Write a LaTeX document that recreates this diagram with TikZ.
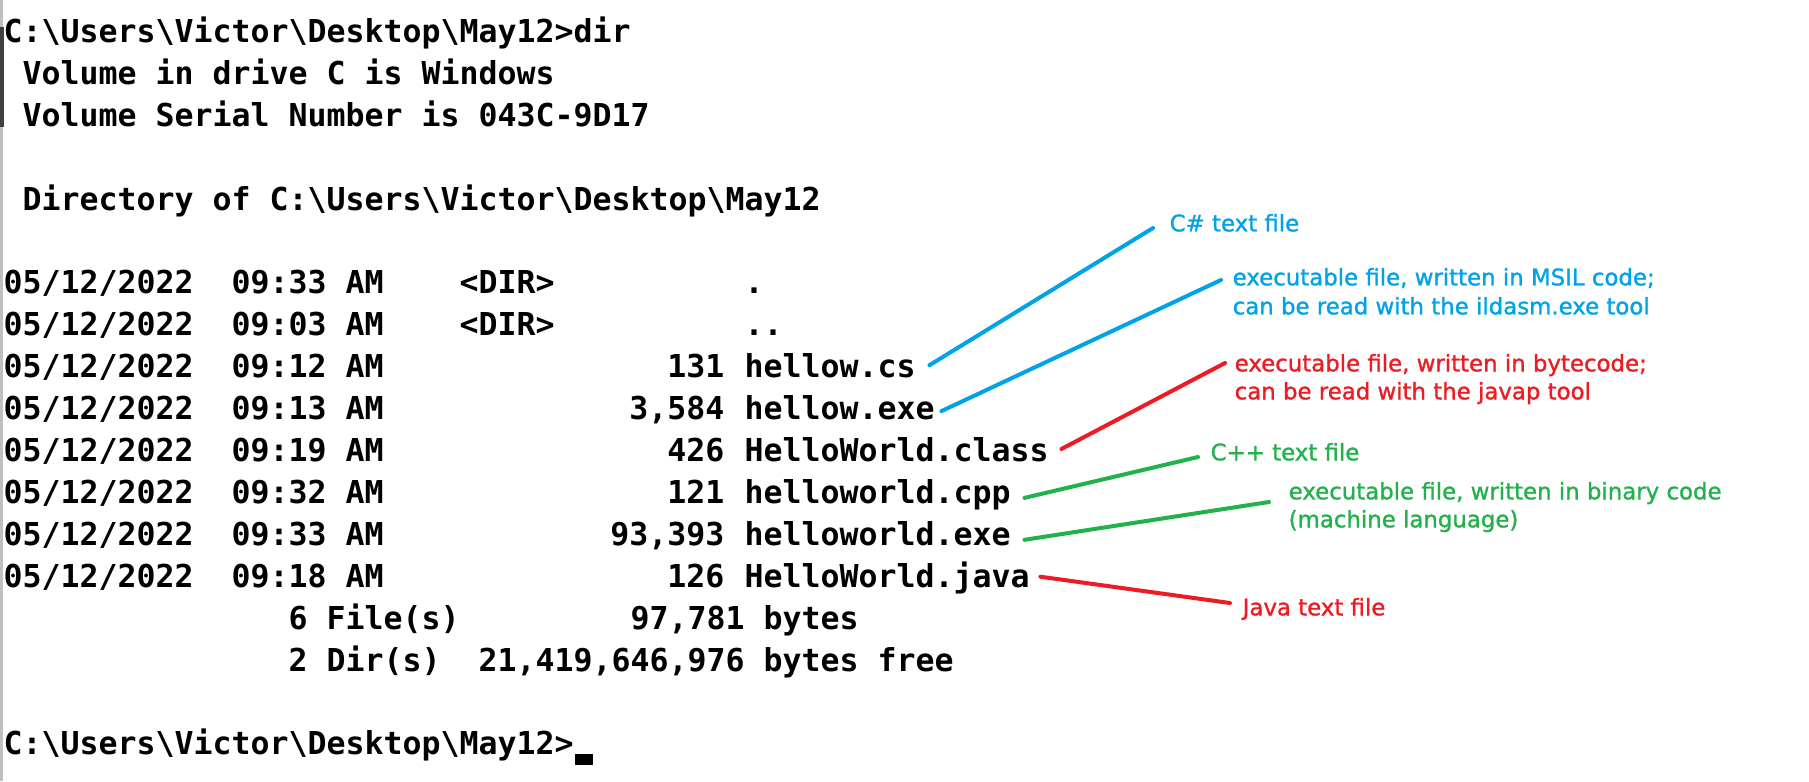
\documentclass[tikz,border=0pt]{standalone}
\usepackage{fontspec}
\usetikzlibrary{positioning}
\newfontfamily\termfont{DejaVu Sans Mono}
\newfontfamily\notefont{DejaVu Sans}[FakeBold=1.2]
\definecolor{notecyan}{HTML}{00A2E8}
\definecolor{notered}{HTML}{ED1C24}
\definecolor{notegreen}{HTML}{22B14C}
\newcommand{\bsl}{\textbackslash}

\begin{document}
\begin{tikzpicture}[x=0.1mm, y=-0.1mm]
\tikzset{
    termtext/.style={anchor=west, inner sep=0pt, font=\termfont\bfseries\fontsize{8.98}{10}\selectfont, text height=2.3mm, text depth=0pt},
    notelabel/.style={anchor=west, inner sep=0pt, font=\notefont\fontsize{6.5}{7}\selectfont, text height=1.67mm, text depth=0pt},
    noteline/.style={line width=0.4mm, line cap=round}
}
\useasboundingbox (0,0) rectangle (1809,781);
\fill[white] (0,0) rectangle (1809,781);
% window edge
\fill[black!25] (0,0) rectangle (3,781);
\fill[black!75] (0,27) rectangle (4,127);

\node[termtext] (prompt) at (3,31) {C:\bsl Users\bsl Victor\bsl Desktop\bsl May12>dir};
\node[termtext] (volname) at (22,72.9) {Volume in drive C is Windows};
\node[termtext] (volserial) at (22,114.8) {Volume Serial Number is 043C-9D17};
\node[termtext] (dirof) at (22,198.6) {Directory of C:\bsl Users\bsl Victor\bsl Desktop\bsl May12};

% date and time columns
\foreach \r/\t in {7/09:33, 8/09:03, 9/09:12, 10/09:13, 11/09:19, 12/09:32, 13/09:33, 14/09:18}{
    \node[termtext] (date\r) at (3,{31+(\r-1)*41.9}) {05/12/2022};
    \node[termtext] (time\r) at (231,{31+(\r-1)*41.9}) {\t{} AM};
}
\node[termtext] (dirtag7) at (459,282.4) {<DIR>};
\node[termtext] (dirtag8) at (459,324.3) {<DIR>};
\node[termtext] (dot) at (744,282.4) {.};
\node[termtext] (dotdot) at (744,324.3) {..};

% size right aligned, then the file name
\foreach \r/\sz/\fn/\nm in {9/131/hellow.cs/hcs, 10/{3,584}/hellow.exe/hexe, 11/426/HelloWorld.class/hclass, 12/121/helloworld.cpp/hcpp, 13/{93,393}/helloworld.exe/hwexe, 14/126/HelloWorld.java/hjava}{
    \node[termtext, anchor=east] (size\r) at (725,{31+(\r-1)*41.9}) {\sz};
    \node[termtext] (\nm) at (744,{31+(\r-1)*41.9}) {\fn};
}

\node[termtext] (nfiles) at (288,617.6) {6 File(s)};
\node[termtext] (nbytes) at (630,617.6) {97,781 bytes};
\node[termtext] (ndirs) at (288,659.5) {2 Dir(s)};
\node[termtext] (nfree) at (478,659.5) {21,419,646,976 bytes free};

\node[termtext] (prompt2) at (3,743.3) {C:\bsl Users\bsl Victor\bsl Desktop\bsl May12>};
\fill (prompt2.east) ++(1,11) rectangle ++(18,11);

% notes
\node[notelabel, text=notecyan] (lcs) at (1169,223) {C\# text file};
\node[notelabel, text=notecyan] (lmsil) at (1232,277) {executable file, written in MSIL code;};
\node[notelabel, text=notecyan] (lmsil2) at (1232,306) {can be read with the ildasm.exe tool};
\node[notelabel, text=notered] (lbyte) at (1234,363) {executable file, written in bytecode;};
\node[notelabel, text=notered] (lbyte2) at (1234,391) {can be read with the javap tool};
\node[notelabel, text=notegreen] (lcpp) at (1210,452) {C++ text file};
\node[notelabel, text=notegreen] (lbin) at (1288,491) {executable file, written in binary code};
\node[notelabel, text=notegreen] (lbin2) at (1288,519) {(machine language)};
\node[notelabel, text=notered] (ljava) at (1242,607) {Java text file};

\draw[noteline, notecyan] ([shift={(13,-1)}]hcs.east) -- ([shift={(-16,5)}]lcs.west);
\draw[noteline, notecyan] ([shift={(6,3)}]hexe.east) -- ([shift={(-11,3)}]lmsil.west);
\draw[noteline, notered] ([shift={(12,-1)}]hclass.east) -- ([shift={(-9,0)}]lbyte.west);
\draw[noteline, notegreen] ([shift={(13,6)}]hcpp.east) -- ([shift={(-12,5)}]lcpp.west);
\draw[noteline, notegreen] ([shift={(13,6)}]hwexe.east) -- ([shift={(-19,11)}]lbin.west);
\draw[noteline, notered] ([shift={(10,1)}]hjava.east) -- ([shift={(-12,-4)}]ljava.west);
\end{tikzpicture}
\end{document}
